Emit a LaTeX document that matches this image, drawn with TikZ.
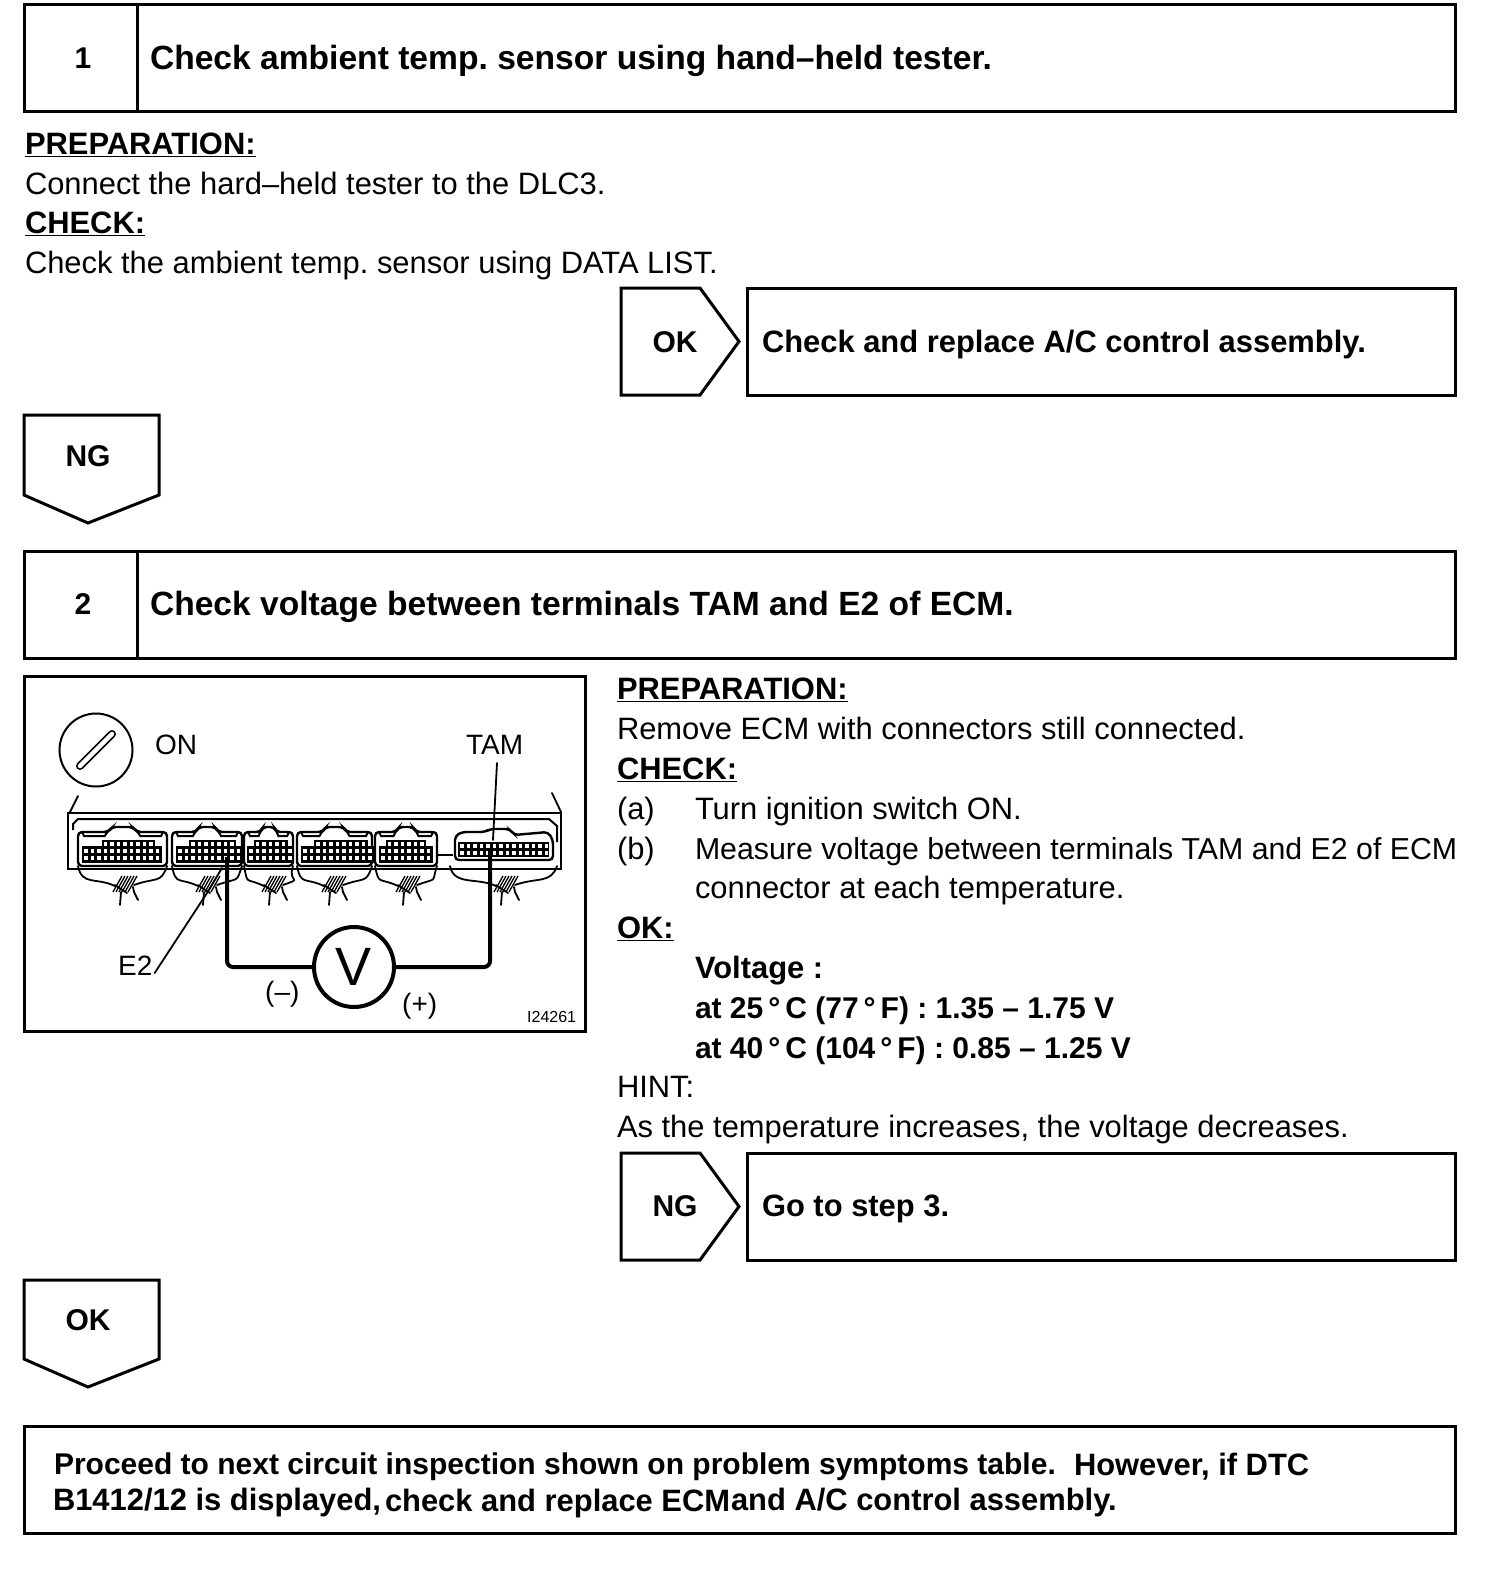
\documentclass[tikz,border=0pt]{standalone}
\usepackage{fontspec}
\setmainfont{Liberation Sans}
\usetikzlibrary{calc}
\frenchspacing
\newcommand{\bodyfs}{\fontsize{30.9}{36}\selectfont}
\newcommand{\basefs}{\fontsize{30}{36}\selectfont}
\newcommand{\titlefs}{\fontsize{33.6}{40}\selectfont}
\newcommand{\smallfs}{\fontsize{28}{34}\selectfont}
\newcommand{\tinyfs}{\fontsize{16}{19}\selectfont}
\tikzset{
  x=1pt,y=-1pt,
  frame/.style={draw=black,line width=3pt,fill=white,line join=miter},
  txt/.style={anchor=base west,inner sep=0pt,outer sep=0pt,font=\bodyfs},
  bld/.style={txt,font=\bodyfs\bfseries},
  bldbase/.style={txt,font=\basefs\bfseries},
  ttl/.style={txt,font=\titlefs\bfseries},
  fig/.style={anchor=base west,inner sep=0pt,font=\smallfs},
  badge/.style={anchor=base,inner sep=0pt,font=\basefs\bfseries},
  thin wire/.style={line width=1.8pt,line join=round,line cap=round},
  house/.style={line width=2.6pt},
  meter/.style={line width=4pt,rounded corners=6pt},
}
% right-pointing badge: x0, ytop, ybot
\newcommand{\rbadge}[3]{\draw[frame] (#1,#2) -- (#1+79,#2) -- (#1+118,{(#2+#3)/2}) -- (#1+79,#3) -- (#1,#3) -- cycle;}
% down-pointing badge: ytop, shoulder, tip
\newcommand{\dbadge}[3]{\draw[frame] (24,#1) -- (159,#1) -- (159,#2) -- (88,#3) -- (24,#2) -- cycle;}
% connector: xl xr  field-start ncols topstart topend
\newcommand{\conn}[6]{%
  \draw[line width=2.4pt,rounded corners=4pt,fill=white] (#1,866) -- (#1,832) -- ({#1+(#2-#1)*.34},832) -- ({#1+(#2-#1)*.38},827) -- ({#1+(#2-#1)*.62},827) -- ({#1+(#2-#1)*.66},832) -- (#2,832) -- (#2,866) -- cycle;
  \draw[line width=2pt] ({#1+4},832) -- ({#1+6},836) -- ({#1+(#2-#1)*.3},836) -- ({#1+(#2-#1)*.33},832);
  \draw[line width=2pt] ({#1+(#2-#1)*.67},832) -- ({#1+(#2-#1)*.7},836) -- ({#2-6},836) -- ({#2-4},832);
  \fill[black] (#3,846) rectangle ({#3+6.5*#4+1.5},863);
  \fill[black] ({#3+6.5*#5},839.5) rectangle ({#3+6.5*#6+1.5},848);
  \foreach \c in {1,...,#4}{\fill[white] ({#3+6.5*\c-4.5},848.5) rectangle ++(3.8,4);\fill[white] ({#3+6.5*\c-4.5},855.5) rectangle ++(3.8,4.6);}
  \pgfmathtruncatemacro{\tops}{#5+1}
  \foreach \c in {\tops,...,#6}{\fill[white] ({#3+6.5*\c-4.5},842) rectangle ++(3.8,4);}
}
% harness: xl xr cx
\newcommand{\harn}[3]{%
  \draw[thin wire] (#1,866) .. controls (#1+4,886) and (#3-28,877) .. (#3-9,886);
  \draw[thin wire] (#2,866) .. controls (#2-6,884) and (#3+32,877) .. (#3+10,885);
  \foreach \d in {-9,-6,-3,0,3,6}{\draw[line width=1.3pt] (#3+\d-2,892) -- (#3+\d+7,876);}
  \draw[thin wire] (#3-9,885) -- (#3+3,893);
  \draw[thin wire] (#3-3,892) -- (#3-4,905);
  \draw[thin wire] (#3+9,887) -- (#3+10,892) -- (#3+14,900);
}
\begin{document}
\begin{tikzpicture}
\useasboundingbox (0,0) rectangle (1504,1576);
\fill[white] (0,0) rectangle (1504,1576);

% Step 1
\draw[frame] (24,5) rectangle (1455,112);
\draw[frame] (137,5) -- (137,112);
\node[badge] (n1) at (83,69) {1};
\node[ttl] (t1) at (150,70) {Check ambient temp. sensor using hand–held tester.};
\node[bld] (p1) at (25,154) {\underline{PREPARATION:}};
\node[txt] (p1a) at (25,194) {Connect the hard–held tester to the DLC3.};
\node[bld] (c1) at (25,233) {\underline{CHECK:}};
\node[txt] (c1a) at (25,273) {Check the ambient temp. sensor using DATA LIST.};
\rbadge{621}{288}{395}
\node[badge] (ok1) at (675,352) {OK};
\draw[frame] (747,288) rectangle (1455,395);
\node[bld] (r1) at (762,352) {Check and replace A/C control assembly.};
\dbadge{415}{495}{523}
\node[badge] (ng1) at (88,466) {NG};

% Step 2
\draw[frame] (24,551) rectangle (1455,658);
\draw[frame] (137,551) -- (137,658);
\node[badge] (n2) at (83,614) {2};
\node[ttl] (t2) at (150,615) {Check voltage between terminals TAM and E2 of ECM.};

% Figure
\draw[frame] (24,676) rectangle (585,1031);
\node[draw,circle,line width=2pt,minimum size=73pt,inner sep=0pt] (ign) at (96,750) {};
\draw[line width=8pt,line cap=round] (80,766) -- (112,734);
\draw[white,line width=4.4pt,line cap=round] (80,766) -- (112,734);
\node[fig] (on) at (155,754) {ON};
\node[fig] (tam) at (466,754) {TAM};
\node[fig] (e2) at (118,975) {E2};
\node[fig] (minus) at (265,1001) {(–)};
\node[fig] (plus) at (402,1013) {(+)};
\node[anchor=base west,inner sep=0pt,font=\tinyfs] (code) at (527,1022) {I24261};

% ECM housing
\draw[house,fill=white] (68,813) rectangle (561,869);
\draw[thin wire] (70,812) -- (78,796);
\draw[thin wire] (561,812) -- (552,793);
\draw[line width=2pt] (73,830) -- (73,824) -- (78,819) -- (549,819) -- (557,826) -- (557,842);
\harn{78}{167}{124}
\harn{172}{242}{207}
\harn{244}{293}{273}
\harn{297}{372}{333}
\harn{375}{437}{407}
\harn{450}{557}{505}
\conn{78}{167}{82}{12}{3}{11}
\conn{172}{242}{176}{10}{2}{9}
\conn{244}{293}{247}{7}{1}{6}
\conn{297}{372}{301}{11}{2}{10}
\conn{375}{437}{379}{8}{1}{7}
% last connector
\draw[line width=2pt] (438,855) -- (453,855);
\draw[line width=2.4pt,rounded corners=4pt,fill=white] (455,860) -- (455,836) -- (462,832) -- (485,832) -- (490,829) -- (510,829) -- (514,835) -- (548,832) -- (553,840) -- (553,860) -- cycle;
\fill[black] (458,842) rectangle (549,857);
\foreach \c in {1,...,14}{\fill[white] ({458+6.5*\c-4.5},844) rectangle ++(3.8,4.4);\fill[white] ({458+6.5*\c-4.5},850.6) rectangle ++(3.8,4.4);}

% Leaders and meter
\coordinate (e2end) at (207,893);
\coordinate (e2pin) at (227,857);
\coordinate (tampin) at (490,851);
\coordinate (tamlead) at (497,763);
\coordinate (tamtip) at (493,840);
\node[draw,circle,line width=4pt,minimum size=80pt,inner sep=0pt,font=\fontsize{54}{60}\selectfont] (vm) at (354,967) {\raisebox{-3pt}{V}};
\draw[thin wire] (e2.base east)++(2,-2) -- (e2end) -- (222,868);
\draw[thin wire] (tamlead) -- (tamtip);
\draw[meter] (e2pin) |- (vm.west);
\draw[meter] (tampin) |- (vm.east);

% Step 2 text
\node[bld] (p2) at (617,699) {\underline{PREPARATION:}};
\node[txt] (p2a) at (617,739) {Remove ECM with connectors still connected.};
\node[bld] (c2) at (617,779) {\underline{CHECK:}};
\node[txt] (a) at (617,819) {(a)};
\node[txt] (a1) at (695,819) {Turn ignition switch ON.};
\node[txt] (b) at (617,859) {(b)};
\node[txt,font=\fontsize{30.3}{36}\selectfont] (b1) at (695,859) {Measure voltage between terminals TAM and E2 of ECM};
\node[txt] (b2) at (695,898) {connector at each temperature.};
\node[bld] (ok) at (617,938) {\underline{OK:}};
\node[bld] (v0) at (695,978) {Voltage :};
\node[bldbase] (v1) at (695,1018) {at 25\,°\,C (77\,°\,F) : 1.35 – 1.75 V};
\node[bldbase] (v2) at (695,1058) {at 40\,°\,C (104\,°\,F) : 0.85 – 1.25 V};
\node[txt] (h) at (617,1097) {HINT:};
\node[txt] (h1) at (617,1137) {As the temperature increases, the voltage decreases.};
\rbadge{621}{1153}{1260}
\node[badge] (ng2) at (675,1216) {NG};
\draw[frame] (747,1153) rectangle (1455,1260);
\node[bld] (r2) at (762,1216) {Go to step 3.};
\dbadge{1280}{1359}{1387}
\node[badge] (ok2) at (88,1330) {OK};

% Final box
\draw[frame] (24,1426) rectangle (1455,1533);
\node[bldbase] (f1) at (54,1474) {Proceed to next circuit inspection shown on problem symptoms table.};
\node[bld] (f1b) at (1074,1475) {However, if DTC};
\node[bld] (f2) at (53,1510) {B1412/12 is displayed,};
\node[bld] (f2b) at (385,1511) {check and replace ECM};
\node[bld] (f2c) at (731,1510) {and A/C control assembly.};
\end{tikzpicture}
\end{document}
